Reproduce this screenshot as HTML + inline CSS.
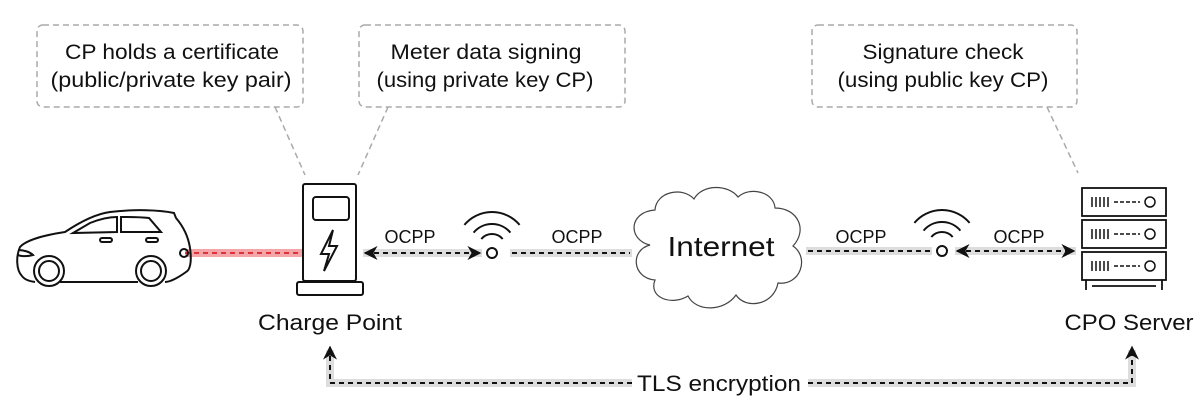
<!DOCTYPE html>
<html><head><meta charset="utf-8"><style>
html,body{margin:0;padding:0;background:#fff;}
svg{display:block;}
text{font-family:"Liberation Sans",sans-serif;fill:#111;}
</style></head><body>
<svg width="1200" height="413" viewBox="0 0 1200 413" xmlns="http://www.w3.org/2000/svg">
<defs>
<marker id="ah" viewBox="0 0 10 10" refX="9" refY="5" markerWidth="7" markerHeight="7" orient="auto-start-reverse"><path d="M0,0 L10,5 L0,10 L3,5 z" fill="#111"/></marker>
</defs>
<g fill="none" stroke="#aaa" stroke-width="1.5" stroke-dasharray="6,4">
<rect x="37" y="25" width="266" height="82" rx="6"/>
<rect x="359" y="25" width="266" height="82" rx="6"/>
<rect x="812" y="25" width="265" height="82" rx="6"/>
<line x1="275" y1="107" x2="305" y2="175"/>
<line x1="388" y1="107" x2="358" y2="175"/>
<line x1="1047" y1="107" x2="1078" y2="173"/>
</g>
<g font-size="21" text-anchor="middle">
<text x="172" y="59" textLength="214" lengthAdjust="spacingAndGlyphs">CP holds a certificate</text>
<text x="171" y="87" textLength="241" lengthAdjust="spacingAndGlyphs">(public/private key pair)</text>
<text x="486" y="59" textLength="191" lengthAdjust="spacingAndGlyphs">Meter data signing</text>
<text x="485" y="87" textLength="217" lengthAdjust="spacingAndGlyphs">(using private key CP)</text>
<text x="943" y="59" textLength="161" lengthAdjust="spacingAndGlyphs">Signature check</text>
<text x="943" y="87" textLength="211" lengthAdjust="spacingAndGlyphs">(using public key CP)</text>
</g>
<g stroke="#ddd" stroke-width="8" fill="none">
<line x1="363" y1="253" x2="482" y2="253"/>
<line x1="510" y1="253" x2="632" y2="253"/>
<line x1="806" y1="251" x2="932" y2="251"/>
<line x1="955" y1="251" x2="1076" y2="251"/>
<polyline points="330,350 330,383 632,383"/>
<polyline points="808,383 1132,383 1132,350"/>
</g>
<line x1="185" y1="253" x2="302" y2="253" stroke="#f4a5a8" stroke-width="8"/>
<line x1="185" y1="253" x2="302" y2="253" stroke="#e0303a" stroke-width="2" stroke-dasharray="5,4"/>
<g stroke="#111" stroke-width="2" fill="none" stroke-dasharray="5,4">
<line x1="365" y1="253" x2="480" y2="253" marker-start="url(#ah)" marker-end="url(#ah)"/>
<line x1="512" y1="253" x2="630" y2="253"/>
<line x1="808" y1="251" x2="930" y2="251"/>
<line x1="957" y1="251" x2="1074" y2="251" marker-start="url(#ah)" marker-end="url(#ah)"/>
<polyline points="330,347 330,383 632,383" marker-start="url(#ah)"/>
<polyline points="808,383 1132,383 1132,347" marker-end="url(#ah)"/>
</g>
<g font-size="18" text-anchor="middle">
<text x="410" y="243">OCPP</text>
<text x="577" y="243">OCPP</text>
<text x="861" y="243">OCPP</text>
<text x="1019" y="243">OCPP</text>
</g>
<text x="719" y="391" font-size="22" text-anchor="middle" textLength="164" lengthAdjust="spacingAndGlyphs">TLS encryption</text>
<g stroke="#111" stroke-width="2" fill="none">
<circle cx="492" cy="253" r="5"/>
<path d="M464.4,224.9 A36,36 0 0 1 519.6,224.9"/>
<path d="M473.6,232.6 A24,24 0 0 1 510.4,232.6"/>
<path d="M481.3,239 A14,14 0 0 1 502.7,239"/>
<circle cx="942" cy="251" r="5"/>
<path d="M914.4,222.9 A36,36 0 0 1 969.6,222.9"/>
<path d="M923.6,230.6 A24,24 0 0 1 960.4,230.6"/>
<path d="M931.3,237 A14,14 0 0 1 952.7,237"/>
</g>
<g stroke="#111" stroke-width="2" fill="#fff">
<rect x="303" y="184" width="53" height="97" rx="2"/>
<rect x="297" y="282" width="66" height="13" rx="2"/>
<rect x="313" y="197" width="36" height="23" rx="3"/>
<path d="M333,230 L321,254 L329,254 L324,271 L337,246 L329,246 L333,230z" fill="none"/>
</g>
<text x="330" y="330" font-size="22" text-anchor="middle" textLength="144" lengthAdjust="spacingAndGlyphs">Charge Point</text>
<g stroke="#111" stroke-width="2" fill="none">
<path d="M22,276 C16,270 16,256 20,247 C26,240 45,235 65,232 C80,222 95,214 110,212 C135,209 160,210 174,213 L176,218 C182,225 188,235 190,248 C192,262 190,270 186,272 C175,280 168,282 165,282 M138,282 L60,282 M35,282 C28,281 24,279 22,276"/>
<circle cx="49" cy="271" r="15"/><circle cx="49" cy="271" r="10"/>
<circle cx="151" cy="271" r="15"/><circle cx="151" cy="271" r="10"/>
<path d="M73,233 L90,223 C100,219 110,217 117,217 L117,232 Z"/>
<path d="M121,217 L121,232 L161,232 L149,218 C140,217 130,217 121,217 Z"/>
<rect x="100" y="238" width="12" height="4" rx="2"/>
<rect x="146" y="238" width="12" height="4" rx="2"/>
<circle cx="184" cy="253" r="4"/>
<path d="M18,250 C24,250 30,252 33,255 C26,257 20,256 18,255"/>
</g>
<path d="M650,245 C628,240 628,212 655,210 C656,192 682,186 694,199 C702,184 728,184 738,197 C750,186 774,192 775,208 C798,208 808,230 793,246 C810,258 800,286 778,283 C774,305 746,310 736,295 C724,312 696,312 688,296 C672,306 648,298 655,280 C632,278 630,250 650,245 Z" fill="#fff" stroke="#444" stroke-width="1.2"/>
<text x="721" y="256" font-size="28" text-anchor="middle" textLength="107" lengthAdjust="spacingAndGlyphs">Internet</text>
<g stroke="#111" stroke-width="1.8" fill="#fff">
<rect x="1082" y="188" width="84" height="28"/>
<rect x="1082" y="220" width="84" height="28"/>
<rect x="1082" y="252" width="84" height="28"/>
<line x1="1086" y1="280" x2="1086" y2="290"/><line x1="1162" y1="280" x2="1162" y2="290"/>
<line x1="1092" y1="286" x2="1156" y2="286"/>
<g stroke-width="1.5">
<path d="M1092,197v10M1096,197v10M1100,197v10M1104,197v10M1108,197v10"/>
<path d="M1092,229v10M1096,229v10M1100,229v10M1104,229v10M1108,229v10"/>
<path d="M1092,261v10M1096,261v10M1100,261v10M1104,261v10M1108,261v10"/>
<path d="M1114,202h26M1114,234h26M1114,266h26" stroke-dasharray="4,2"/>
<circle cx="1150" cy="202" r="5"/><circle cx="1150" cy="234" r="5"/><circle cx="1150" cy="266" r="5"/>
</g>
</g>
<text x="1129" y="330" font-size="22" text-anchor="middle" textLength="129" lengthAdjust="spacingAndGlyphs">CPO Server</text>
</svg>
</body></html>
